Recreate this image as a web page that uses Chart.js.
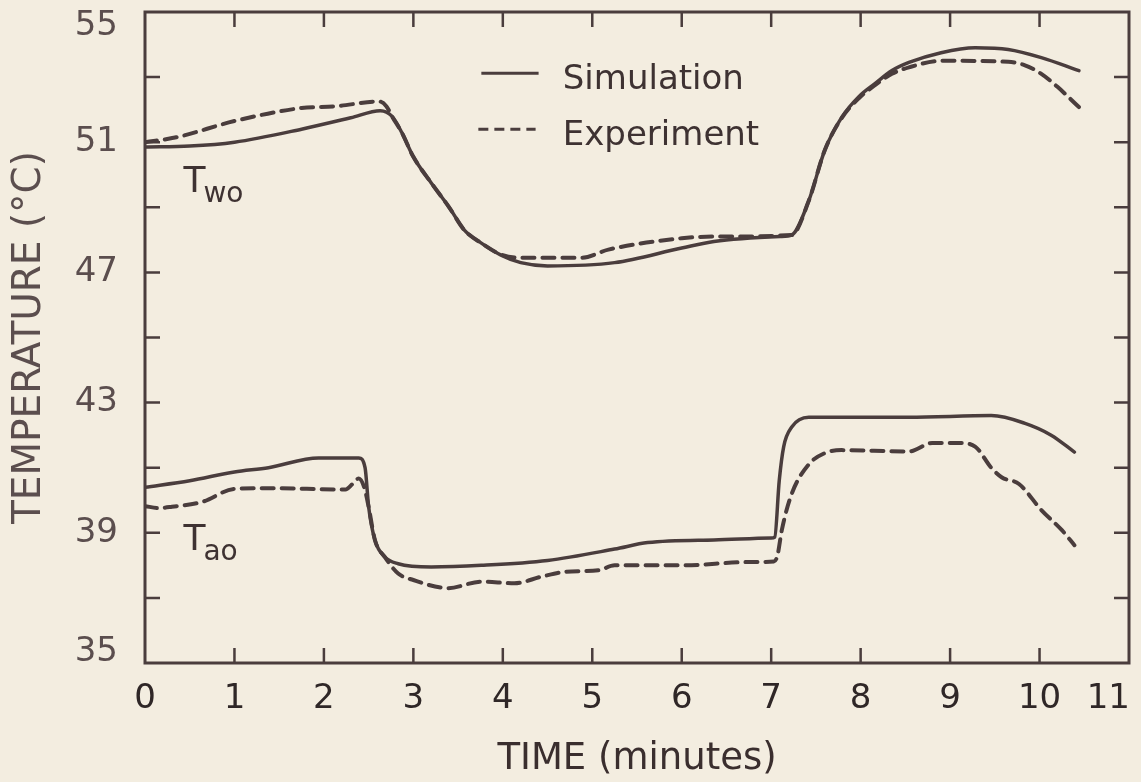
<!DOCTYPE html>
<html>
<head>
<meta charset="utf-8">
<title>Temperature vs time</title>
<script src="https://cdn.jsdelivr.net/npm/chart.js@4.4.1/dist/chart.umd.min.js"></script>
<style>
  html, body { margin: 0; padding: 0; background: #f3ede0; }
  #wrap { width: 1141px; height: 782px; }
</style>
</head>
<body>
<div id="wrap"><canvas id="chart" width="1141" height="782"></canvas></div>
<script>
// water outlet temperature T_wo
const twoSimTime = [0, 0.5, 1.0, 1.75, 2.3, 2.63, 2.76, 2.87, 3.0, 3.2, 3.4, 3.57, 3.76, 3.98, 4.2, 4.5, 5.25, 6.0, 6.36, 7.1, 7.23, 7.42, 7.6, 7.79, 7.98, 8.16, 8.35, 8.54, 8.9, 9.28, 9.65, 10.02, 10.44];
const twoSimTemp = [50.85, 50.88, 51.0, 51.4, 51.75, 51.97, 51.8, 51.3, 50.55, 49.75, 49.0, 48.3, 47.9, 47.53, 47.3, 47.2, 47.3, 47.75, 47.95, 48.1, 48.15, 49.2, 50.76, 51.77, 52.4, 52.8, 53.2, 53.45, 53.75, 53.9, 53.85, 53.6, 53.2];
const twoExpTime = [0, 0.35, 1.0, 1.75, 2.12, 2.62, 2.7, 2.76, 2.87, 3.0, 3.2, 3.4, 3.57, 3.76, 3.98, 4.2, 4.88, 5.18, 6.0, 6.36, 7.23, 7.42, 7.6, 7.79, 7.98, 8.16, 8.35, 8.54, 8.9, 9.65, 9.83, 10.02, 10.2, 10.44];
const twoExpTemp = [51.0, 51.15, 51.65, 52.05, 52.1, 52.25, 52.1, 51.8, 51.3, 50.55, 49.75, 49.0, 48.3, 47.9, 47.55, 47.45, 47.45, 47.7, 48.05, 48.1, 48.15, 49.2, 50.76, 51.75, 52.35, 52.75, 53.1, 53.3, 53.5, 53.47, 53.37, 53.1, 52.7, 52.08];

// air outlet temperature T_ao
const taoSimTime = [0, 0.5, 1.0, 1.38, 1.94, 2.39, 2.46, 2.5, 2.57, 2.68, 2.83, 3.2, 3.76, 4.5, 5.25, 5.62, 6.36, 7.0, 7.04, 7.09, 7.14, 7.23, 7.42, 8.54, 9.46, 9.83, 10.13, 10.39];
const taoSimTemp = [40.4, 40.6, 40.87, 41.0, 41.3, 41.3, 41.0, 39.8, 38.78, 38.26, 38.05, 37.95, 38.0, 38.15, 38.5, 38.7, 38.78, 38.84, 38.87, 40.6, 41.65, 42.25, 42.55, 42.55, 42.6, 42.37, 42.0, 41.48];
const taoExpTime = [0, 0.15, 0.3, 0.64, 1.0, 1.38, 2.24, 2.32, 2.39, 2.45, 2.5, 2.57, 2.68, 2.83, 3.0, 3.39, 3.76, 4.13, 4.43, 4.69, 5.07, 5.25, 6.0, 6.74, 7.03, 7.07, 7.12, 7.23, 7.42, 7.6, 7.79, 8.54, 8.8, 9.1, 9.28, 9.46, 9.58, 9.77, 10.02, 10.25, 10.39];
const taoExpTemp = [39.82, 39.76, 39.8, 39.95, 40.35, 40.37, 40.33, 40.5, 40.67, 40.4, 39.8, 38.78, 38.26, 37.75, 37.55, 37.3, 37.5, 37.45, 37.65, 37.8, 37.85, 38.0, 38.0, 38.1, 38.12, 38.3, 39.1, 40.2, 41.1, 41.45, 41.54, 41.5, 41.76, 41.76, 41.65, 41.0, 40.7, 40.5, 39.7, 39.08, 38.62];

const xTicks = [0, 1, 2, 3, 4, 5, 6, 7, 8, 9, 10, 11];
const yLabelled = [35, 39, 43, 47, 51, 55];

const INK = '#4a3d3d';
const BG = '#f3ede0';
const FONT = "'DejaVu Sans', sans-serif";

const pts = (xs, ys) => xs.map((x, i) => ({x: x, y: ys[i]}));

function series(label, xs, ys, dashed) {
  return {
    label: label,
    data: pts(xs, ys),
    borderColor: INK,
    borderWidth: dashed ? 4 : 3.5,
    borderDash: dashed ? [12, 8] : [],
    pointRadius: 0,
    fill: false,
    cubicInterpolationMode: 'monotone',
    borderCapStyle: 'round'
  };
}

// frame, inward ticks, tick labels, legend and curve labels
const decor = {
  id: 'decor',
  beforeDraw(c) {
    const ctx = c.ctx;
    ctx.save();
    ctx.fillStyle = BG;
    ctx.fillRect(0, 0, c.width, c.height);
    ctx.restore();
  },
  afterDatasetsDraw(c) {
    const ctx = c.ctx, a = c.chartArea;
    const xs = c.scales.x, ys = c.scales.y;
    const tl = 15;
    ctx.save();
    ctx.strokeStyle = INK;
    ctx.lineWidth = 3;
    ctx.strokeRect(a.left, a.top, a.right - a.left, a.bottom - a.top);
    ctx.lineWidth = 2.5;
    ctx.beginPath();
    xs.ticks.forEach(t => {
      if (t.value <= xs.min || t.value >= xs.max) return;
      const px = xs.getPixelForValue(t.value);
      ctx.moveTo(px, a.bottom); ctx.lineTo(px, a.bottom - tl);
      ctx.moveTo(px, a.top); ctx.lineTo(px, a.top + tl);
    });
    ys.ticks.forEach(t => {
      if (t.value <= ys.min || t.value >= ys.max) return;
      const py = ys.getPixelForValue(t.value);
      ctx.moveTo(a.left, py); ctx.lineTo(a.left + tl, py);
      ctx.moveTo(a.right, py); ctx.lineTo(a.right - tl, py);
    });
    ctx.stroke();

    // tick labels; the end ones are kept inside the frame
    ctx.font = '34px ' + FONT;
    ctx.textBaseline = 'middle';
    ctx.fillStyle = '#5b4e4e';
    ctx.textAlign = 'right';
    yLabelled.forEach(v => {
      let py = ys.getPixelForValue(v);
      py = Math.min(Math.max(py, a.top + 14), a.bottom - 11);
      ctx.fillText(String(v), a.left - 27, py);
    });
    ctx.fillStyle = '#2f2727';
    xTicks.forEach(v => {
      const px = xs.getPixelForValue(v);
      const last = v === xs.max;
      ctx.textAlign = last ? 'right' : 'center';
      ctx.fillText(String(v), last ? px + 1 : px, a.bottom + 36);
    });
    ctx.textAlign = 'left';

    // legend
    const lx = xs.getPixelForValue(3.76), lx2 = xs.getPixelForValue(4.4);
    const tx = xs.getPixelForValue(4.67);
    const y1 = ys.getPixelForValue(53.12), y2 = ys.getPixelForValue(51.4);
    ctx.lineWidth = 3;
    ctx.beginPath(); ctx.moveTo(lx, y1); ctx.lineTo(lx2, y1); ctx.stroke();
    ctx.setLineDash([10, 6]);
    ctx.beginPath(); ctx.moveTo(lx - 3, y2); ctx.lineTo(lx2 - 3, y2); ctx.stroke();
    ctx.setLineDash([]);
    ctx.fillStyle = '#3e3232';
    ctx.font = '34px ' + FONT;
    ctx.textBaseline = 'alphabetic';
    ctx.fillText('Simulation', tx, y1 + 16);
    ctx.fillText('Experiment', tx, y2 + 16);

    // curve labels with subscripts
    const sub = (x, yv, s) => {
      const px = xs.getPixelForValue(x), py = ys.getPixelForValue(yv);
      ctx.font = '36px ' + FONT;
      ctx.fillText('T', px, py);
      const w = ctx.measureText('T').width;
      ctx.font = '28px ' + FONT;
      ctx.fillText(s, px + w - 2, py + 10);
    };
    sub(0.43, 49.47, 'wo');
    sub(0.43, 38.47, 'ao');
    ctx.restore();
  }
};

new Chart(document.getElementById('chart'), {
  type: 'line',
  data: {
    datasets: [
      series('Simulation', twoSimTime, twoSimTemp, false),
      series('Experiment', twoExpTime, twoExpTemp, true),
      series('Simulation', taoSimTime, taoSimTemp, false),
      series('Experiment', taoExpTime, taoExpTemp, true)
    ]
  },
  options: {
    responsive: false,
    animation: false,
    layout: { padding: { left: 0, right: 12, top: 12, bottom: 0 } },
    plugins: { legend: { display: false }, tooltip: { enabled: false } },
    scales: {
      x: {
        type: 'linear', min: 0, max: 11,
        afterBuildTicks: s => { s.ticks = xTicks.map(v => ({value: v})); },
        afterFit: s => { s.height = 119; s.paddingLeft = 0; s.paddingRight = 0; },
        grid: { display: false, drawTicks: false },
        border: { display: false },
        ticks: { display: false },
        title: { display: true, text: 'TIME (minutes)', color: '#3a2e2e', font: { family: FONT, size: 37 }, padding: { top: 0, bottom: 0 } }
      },
      y: {
        type: 'linear', min: 35, max: 55,
        ticks: { stepSize: 2, display: false },
        afterFit: s => { s.width = 145; s.paddingTop = 0; s.paddingBottom = 0; },
        grid: { display: false, drawTicks: false },
        border: { display: false },
        title: { display: true, text: 'TEMPERATURE (°C)', color: '#5b4e4e', font: { family: FONT, size: 39 }, padding: { top: 6, bottom: 0 } }
      }
    }
  },
  plugins: [decor]
});
</script>
</body>
</html>
